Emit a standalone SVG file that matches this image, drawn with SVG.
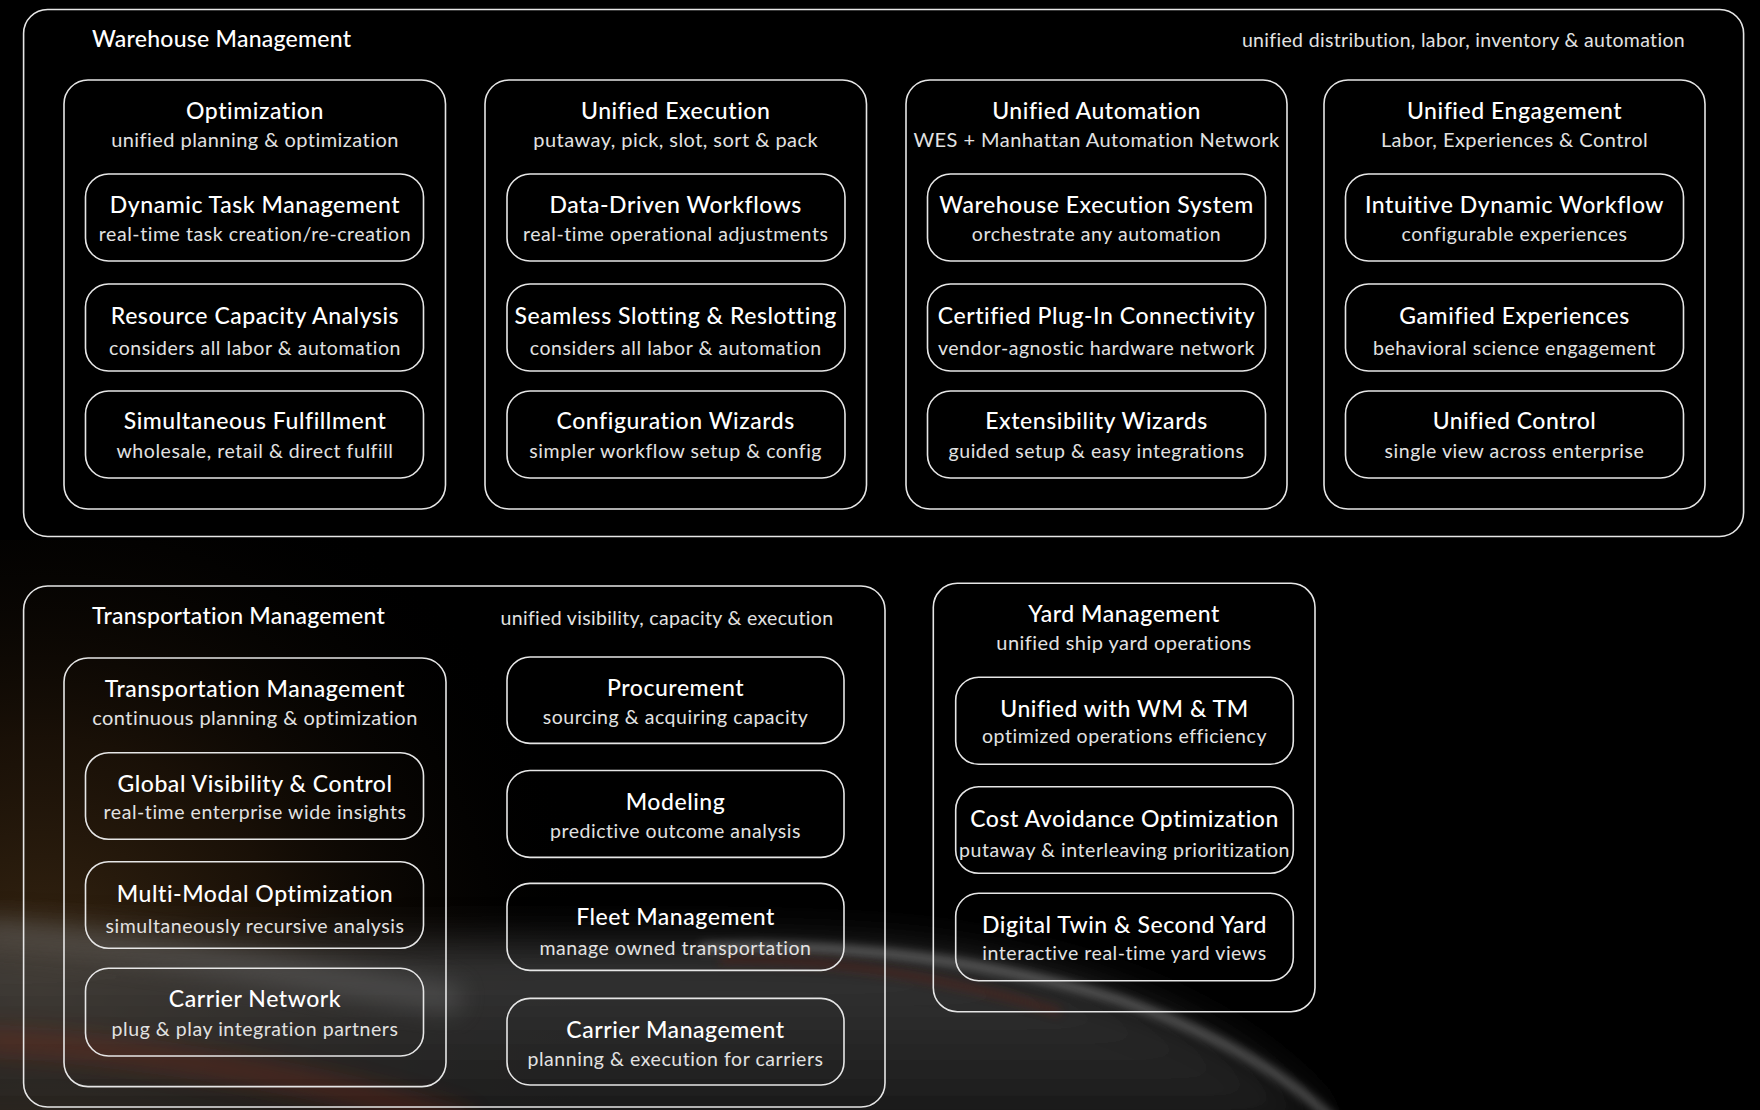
<svg xmlns="http://www.w3.org/2000/svg" width="1760" height="1110" viewBox="0 0 1760 1110">
<defs>
<style>
.box{fill:none;stroke:#e6e6e6;stroke-width:1.6}
.t{font-family:Lato,"Noto Sans",sans-serif;font-weight:500;fill:#ffffff;text-anchor:middle;font-size:23px;letter-spacing:0.55px}
.s{font-family:Lato,"Noto Sans",sans-serif;font-weight:400;fill:#e2e2e2;text-anchor:middle;font-size:19.5px;letter-spacing:0.55px}
.cs{font-family:Lato,"Noto Sans",sans-serif;font-weight:400;fill:#e2e2e2;text-anchor:middle;font-size:20px;letter-spacing:0.45px}
.hd{font-family:Lato,"Noto Sans",sans-serif;font-weight:500;fill:#ffffff;font-size:23px;letter-spacing:0.25px}
.hs{font-family:Lato,"Noto Sans",sans-serif;font-weight:400;fill:#e2e2e2;font-size:19.5px;letter-spacing:0.33px}
</style>
<radialGradient id="glow" cx="40" cy="990" r="560" gradientUnits="userSpaceOnUse">
<stop offset="0" stop-color="#3d2a14" stop-opacity="0.95"/>
<stop offset="0.45" stop-color="#24170a" stop-opacity="0.7"/>
<stop offset="0.8" stop-color="#0c0804" stop-opacity="0.3"/>
<stop offset="1" stop-color="#000000" stop-opacity="0"/>
</radialGradient>
<linearGradient id="haze" x1="0" y1="930" x2="0" y2="1110" gradientUnits="userSpaceOnUse">
<stop offset="0" stop-color="#505050"/>
<stop offset="0.5" stop-color="#383838"/>
<stop offset="1" stop-color="#262626"/>
</linearGradient>
<filter id="b25" x="-50%" y="-50%" width="200%" height="200%"><feGaussianBlur stdDeviation="22"/></filter>
<filter id="b12" x="-50%" y="-50%" width="200%" height="200%"><feGaussianBlur stdDeviation="12"/></filter>
<filter id="b5" x="-50%" y="-50%" width="200%" height="200%"><feGaussianBlur stdDeviation="5"/></filter>
</defs>

<g id="background">
<rect x="0" y="0" width="1760" height="1110" fill="#000"/>
<rect x="0" y="540" width="1000" height="570" fill="url(#glow)"/>
<path d="M -60 935 C 250 958 600 935 880 950 C 1050 962 1230 1012 1335 1130 L -60 1130 Z" fill="url(#haze)" opacity="0.75" filter="url(#b25)"/>
<path d="M -20 932 C 150 945 300 975 460 1000" fill="none" stroke="#6a6a6a" stroke-width="28" opacity="0.45" filter="url(#b12)"/>
<path d="M 700 948 C 850 940 1000 964 1120 1000 C 1220 1035 1290 1077 1335 1122" fill="none" stroke="#a8a8a8" stroke-width="8" opacity="0.5" filter="url(#b5)"/>
<path d="M 720 960 C 850 957 980 987 1060 1012" fill="none" stroke="#6a2418" stroke-width="8" opacity="0.4" filter="url(#b5)"/>
<path d="M -20 1040 C 150 1050 330 1080 470 1125" fill="none" stroke="#8a2a18" stroke-width="18" opacity="0.45" filter="url(#b12)"/>
</g>

<g id="connectors"></g>

<g id="warehouse-management">
<rect class="box" x="23.6" y="9.5" width="1720" height="527" rx="24"/>
<text class="hd" x="92" y="46.7">Warehouse Management</text>
<text class="hs" x="1685" y="46.7" text-anchor="end">unified distribution, labor, inventory &amp; automation</text>
</g>

<g id="wm-optimization">
<rect class="box" x="64" y="80" width="381.5" height="429" rx="24"/>
<text class="t" x="255" y="119">Optimization</text>
<text class="cs" x="255" y="147">unified planning &amp; optimization</text>
</g>
<g id="dynamic-task-management">
<rect class="box" x="85.5" y="174" width="338" height="87" rx="23"/>
<text class="t" x="255" y="213.3">Dynamic Task Management</text>
<text class="s" x="255" y="241">real-time task creation/re-creation</text>
</g>
<g id="resource-capacity-analysis">
<rect class="box" x="85.5" y="284" width="338" height="87" rx="23"/>
<text class="t" x="255" y="324.3">Resource Capacity Analysis</text>
<text class="s" x="255" y="355">considers all labor &amp; automation</text>
</g>
<g id="simultaneous-fulfillment">
<rect class="box" x="85.5" y="391" width="338" height="87" rx="23"/>
<text class="t" x="255" y="429.3">Simultaneous Fulfillment</text>
<text class="s" x="255" y="458">wholesale, retail &amp; direct fulfill</text>
</g>

<g id="wm-unified-execution">
<rect class="box" x="485" y="80" width="381.5" height="429" rx="24"/>
<text class="t" x="675.7" y="119">Unified Execution</text>
<text class="cs" x="675.7" y="147">putaway, pick, slot, sort &amp; pack</text>
</g>
<g id="data-driven-workflows">
<rect class="box" x="507" y="174" width="338" height="87" rx="23"/>
<text class="t" x="675.7" y="213.3">Data-Driven Workflows</text>
<text class="s" x="675.7" y="241">real-time operational adjustments</text>
</g>
<g id="seamless-slotting">
<rect class="box" x="507" y="284" width="338" height="87" rx="23"/>
<text class="t" x="675.7" y="324.3">Seamless Slotting &amp; Reslotting</text>
<text class="s" x="675.7" y="355">considers all labor &amp; automation</text>
</g>
<g id="configuration-wizards">
<rect class="box" x="507" y="391" width="338" height="87" rx="23"/>
<text class="t" x="675.7" y="429.3">Configuration Wizards</text>
<text class="s" x="675.7" y="458">simpler workflow setup &amp; config</text>
</g>

<g id="wm-unified-automation">
<rect class="box" x="906" y="80" width="381" height="429" rx="24"/>
<text class="t" x="1096.5" y="119">Unified Automation</text>
<text class="cs" x="1096.5" y="147">WES + Manhattan Automation Network</text>
</g>
<g id="warehouse-execution-system">
<rect class="box" x="927.5" y="174" width="338" height="87" rx="23"/>
<text class="t" x="1096.5" y="213.3">Warehouse Execution System</text>
<text class="s" x="1096.5" y="241">orchestrate any automation</text>
</g>
<g id="certified-plug-in">
<rect class="box" x="927.5" y="284" width="338" height="87" rx="23"/>
<text class="t" x="1096.5" y="324.3">Certified Plug-In Connectivity</text>
<text class="s" x="1096.5" y="355">vendor-agnostic hardware network</text>
</g>
<g id="extensibility-wizards">
<rect class="box" x="927.5" y="391" width="338" height="87" rx="23"/>
<text class="t" x="1096.5" y="429.3">Extensibility Wizards</text>
<text class="s" x="1096.5" y="458">guided setup &amp; easy integrations</text>
</g>

<g id="wm-unified-engagement">
<rect class="box" x="1324" y="80" width="381" height="429" rx="24"/>
<text class="t" x="1514.5" y="119">Unified Engagement</text>
<text class="cs" x="1514.5" y="147">Labor, Experiences &amp; Control</text>
</g>
<g id="intuitive-dynamic-workflow">
<rect class="box" x="1345.5" y="174" width="338" height="87" rx="23"/>
<text class="t" x="1514.5" y="213.3">Intuitive Dynamic Workflow</text>
<text class="s" x="1514.5" y="241">configurable experiences</text>
</g>
<g id="gamified-experiences">
<rect class="box" x="1345.5" y="284" width="338" height="87" rx="23"/>
<text class="t" x="1514.5" y="324.3">Gamified Experiences</text>
<text class="s" x="1514.5" y="355">behavioral science engagement</text>
</g>
<g id="unified-control">
<rect class="box" x="1345.5" y="391" width="338" height="87" rx="23"/>
<text class="t" x="1514.5" y="429.3">Unified Control</text>
<text class="s" x="1514.5" y="458">single view across enterprise</text>
</g>

<g id="transportation-management">
<rect class="box" x="23.6" y="586" width="861.4" height="521" rx="24"/>
<text class="hd" x="92" y="624">Transportation Management</text>
<text class="hs" x="667" y="625" text-anchor="middle">unified visibility, capacity &amp; execution</text>
</g>
<g id="tm-core">
<rect class="box" x="64" y="658" width="382" height="428.6" rx="24"/>
<text class="t" x="255" y="696.7">Transportation Management</text>
<text class="cs" x="255" y="725">continuous planning &amp; optimization</text>
</g>
<g id="global-visibility">
<rect class="box" x="85.5" y="752.7" width="338" height="86.6" rx="23"/>
<text class="t" x="255" y="791.7">Global Visibility &amp; Control</text>
<text class="s" x="255" y="819.3">real-time enterprise wide insights</text>
</g>
<g id="multi-modal-optimization">
<rect class="box" x="85.5" y="861.7" width="338" height="86.6" rx="23"/>
<text class="t" x="255" y="901.7">Multi-Modal Optimization</text>
<text class="s" x="255" y="932.7">simultaneously recursive analysis</text>
</g>
<g id="carrier-network">
<rect class="box" x="85.5" y="968.3" width="338" height="87.7" rx="23"/>
<text class="t" x="255" y="1006.7">Carrier Network</text>
<text class="s" x="255" y="1035.7">plug &amp; play integration partners</text>
</g>
<g id="procurement">
<rect class="box" x="507" y="657" width="337" height="86.4" rx="23"/>
<text class="t" x="675.5" y="696">Procurement</text>
<text class="s" x="675.5" y="724">sourcing &amp; acquiring capacity</text>
</g>
<g id="modeling">
<rect class="box" x="507" y="770.5" width="337" height="86.9" rx="23"/>
<text class="t" x="675.5" y="809.7">Modeling</text>
<text class="s" x="675.5" y="838">predictive outcome analysis</text>
</g>
<g id="fleet-management">
<rect class="box" x="507" y="883.4" width="337" height="87" rx="23"/>
<text class="t" x="675.5" y="924.8">Fleet Management</text>
<text class="s" x="675.5" y="955.3">manage owned transportation</text>
</g>
<g id="carrier-management">
<rect class="box" x="507" y="998.4" width="337" height="86.6" rx="23"/>
<text class="t" x="675.5" y="1037.7">Carrier Management</text>
<text class="s" x="675.5" y="1065.8">planning &amp; execution for carriers</text>
</g>

<g id="yard-management">
<rect class="box" x="933.3" y="583.3" width="381.7" height="428.4" rx="24"/>
<text class="t" x="1124" y="621.7">Yard Management</text>
<text class="cs" x="1124" y="650">unified ship yard operations</text>
</g>
<g id="unified-with-wm-tm">
<rect class="box" x="955.7" y="677.3" width="337.6" height="87" rx="23"/>
<text class="t" x="1124.5" y="716.7">Unified with WM &amp; TM</text>
<text class="s" x="1124.5" y="743.3">optimized operations efficiency</text>
</g>
<g id="cost-avoidance">
<rect class="box" x="955.7" y="786.7" width="337.6" height="86.6" rx="23"/>
<text class="t" x="1124.5" y="826.7">Cost Avoidance Optimization</text>
<text class="s" x="1124.5" y="857.3">putaway &amp; interleaving prioritization</text>
</g>
<g id="digital-twin">
<rect class="box" x="955.7" y="893.3" width="337.6" height="87.4" rx="23"/>
<text class="t" x="1124.5" y="932.7">Digital Twin &amp; Second Yard</text>
<text class="s" x="1124.5" y="960">interactive real-time yard views</text>
</g>
</svg>
